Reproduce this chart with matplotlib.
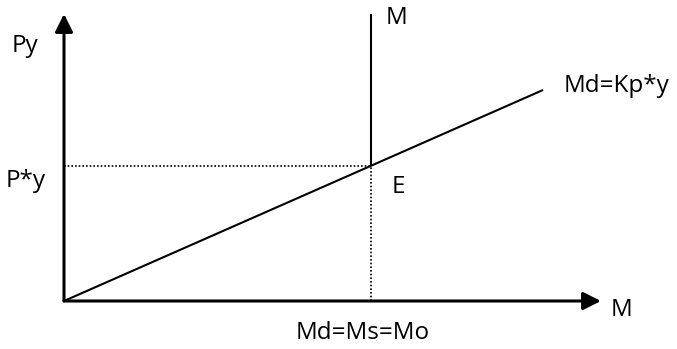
import matplotlib
matplotlib.use("Agg")
import matplotlib.pyplot as plt
import numpy as np

# Conceptual data (units relative to origin)
x_axis_end = 537
y_axis_end = 287
money_supply = 307          # vertical M line position
md_x = [0, 479]             # Md = Kp*y line
md_y = [0, 211]
slope = md_y[1] / md_x[1]
eq_y = money_supply * slope  # equilibrium P*y level

label_texts = ["Py", "P*y", "M", "Md=Kp*y", "E", "M", "Md=Ms=Mo"]
label_x = [-52, -58, 322, 500, 328, 547, 232]
label_y = [249, 114, 277, 209, 108, -15, -38]

fig = plt.figure(figsize=(6.77, 3.49), dpi=100)
ax = fig.add_axes([0, 0, 1, 1])
ax.set_xlim(-64, 613)
ax.set_ylim(-48, 301)
ax.axis("off")

axis_lw = 2.2
line_lw = 1.5
arrow_style = "-|>,head_length=0.75,head_width=0.375"
ax.annotate("", xy=(0, y_axis_end), xytext=(0, 0),
            arrowprops=dict(arrowstyle=arrow_style, lw=axis_lw, color="black",
                            mutation_scale=14.4, shrinkA=0, shrinkB=0))
ax.annotate("", xy=(x_axis_end, 0), xytext=(0, 0),
            arrowprops=dict(arrowstyle=arrow_style, lw=axis_lw, color="black",
                            mutation_scale=14.4, shrinkA=0, shrinkB=0))

# Md line
ax.plot(md_x, md_y, color="black", lw=line_lw, solid_capstyle="butt")
# Vertical money supply line: solid above E, dotted below
ax.plot([money_supply, money_supply], [eq_y, y_axis_end], color="black", lw=line_lw, solid_capstyle="butt")
ax.plot([money_supply, money_supply], [0, eq_y], color="black", lw=1.2, linestyle=(0, (1, 1.2)))
# Horizontal dotted line to P*y
ax.plot([0, money_supply], [eq_y, eq_y], color="black", lw=1.2, linestyle=(0, (1, 1.2)))

font = dict(family=["Open Sans", "DejaVu Sans"], fontsize=17.5, ha="left", va="baseline", color="black")
for t, tx, ty in zip(label_texts, label_x, label_y):
    ax.text(tx, ty, t, **font)

fig.savefig("out.png", dpi=100)
